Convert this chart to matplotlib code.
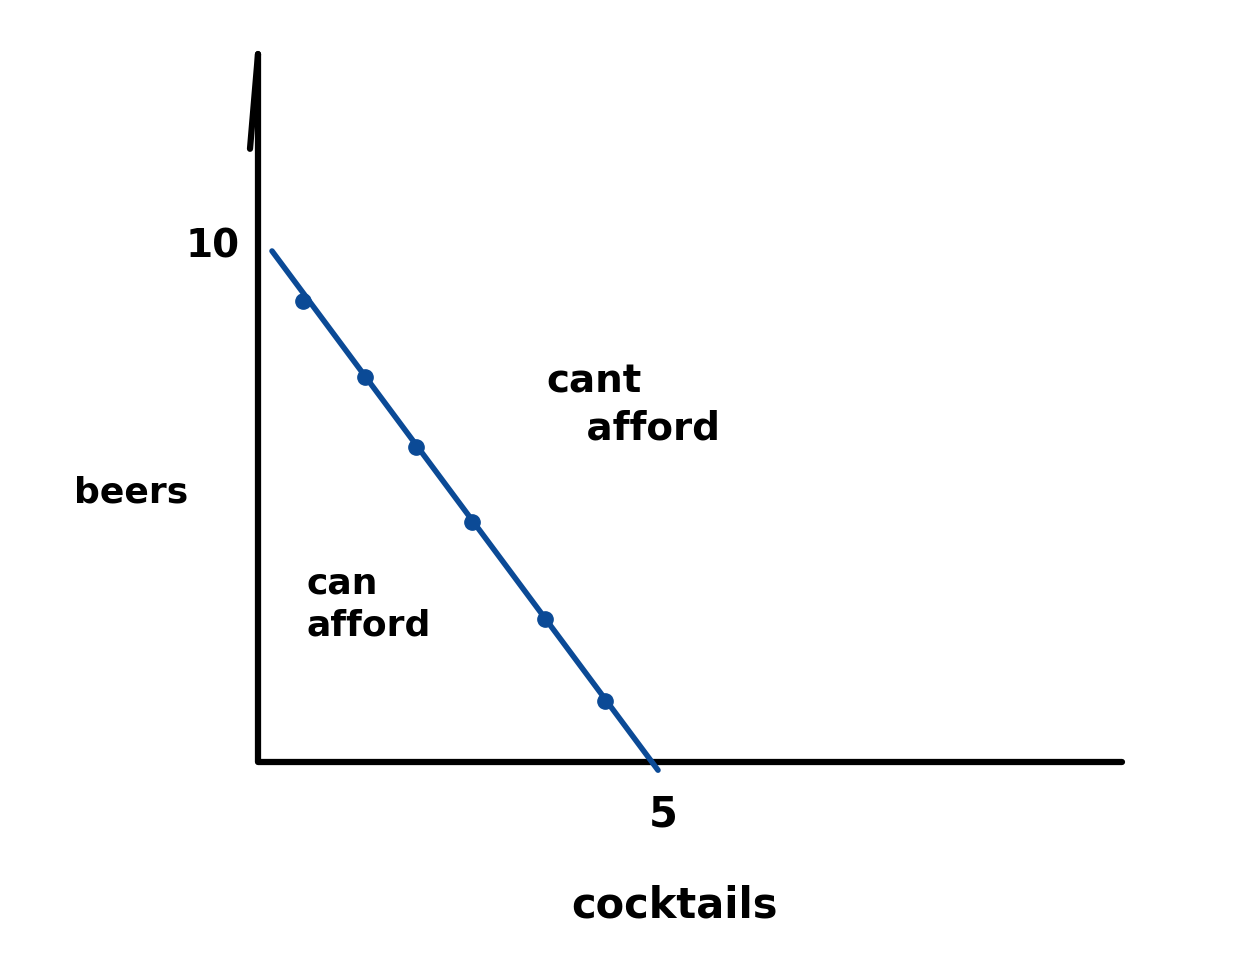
import matplotlib
matplotlib.use("Agg")
import matplotlib.pyplot as plt

# budget line endpoints (cocktails, beers)
line_x = [0.175, 5.0]
line_y = [10.0, -0.16]

# bundles marked on the budget line
dot_x = [0.56, 1.34, 1.98, 2.68, 3.59, 4.34]
dot_y = [9.02, 7.53, 6.16, 4.70, 2.80, 1.19]

# axis extents
x_axis_end = 10.8
y_axis_end = 13.85

blue = '#0b4a96'
ink = 'black'

fig = plt.figure(figsize=(12.39, 9.62), dpi=100)
ax = fig.add_axes([0, 0, 1, 1])
ax.set_xlim(-258 / 80, (1239 - 258) / 80)
ax.set_ylim(-(962 - 763) / 51.1, 763 / 51.1)
ax.axis('off')

# hand drawn axes
ax.plot([0, 0, x_axis_end], [y_axis_end, 0, 0], color=ink, lw=4.5,
        solid_capstyle='round', solid_joinstyle='round')
ax.plot([0, -0.1], [y_axis_end, 12.0], color=ink, lw=4.5, solid_capstyle='round')

# budget line
ax.plot(line_x, line_y, color=blue, lw=4, solid_capstyle='round')
ax.plot(dot_x, dot_y, 'o', color=blue, ms=11)

font = dict(family='DejaVu Sans', fontweight='bold', color=ink)
ax.text(-0.57, 10.1, '10', fontsize=28, ha='center', va='center', **font)
ax.text(5.06, -1.0, '5', fontsize=30, ha='center', va='center', **font)
ax.text(-1.58, 5.3, 'beers', fontsize=26, ha='center', va='center', **font)
ax.text(5.21, -2.78, 'cocktails', fontsize=30, ha='center', va='center', **font)
ax.text(3.6, 7.0, 'cant\n   afford', fontsize=28, ha='left', va='center',
        linespacing=1.3, **font)
ax.text(0.6, 3.1, 'can\nafford', fontsize=26, ha='left', va='center',
        linespacing=1.3, **font)

fig.savefig('out.png', dpi=100)
